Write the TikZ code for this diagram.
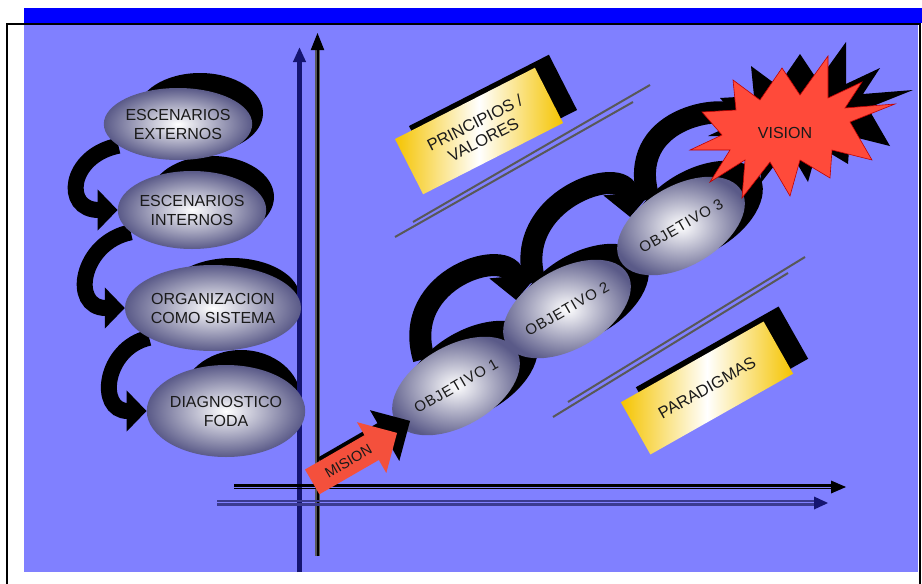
\documentclass[tikz,border=0pt]{standalone}
\usepackage{fontspec}
\setmainfont{Liberation Sans}
\usetikzlibrary{shapes.geometric,shapes.arrows,arrows.meta}
\definecolor{panel}{HTML}{8080FF}
\definecolor{topband}{HTML}{0000FF}
\definecolor{navy}{HTML}{151570}
\definecolor{navyline}{HTML}{3A3A90}
\definecolor{discedge}{HTML}{5A5A88}
\definecolor{gold}{HTML}{F5C400}
\definecolor{starred}{HTML}{FF4A3A}
\definecolor{rulegray}{HTML}{585858}
\definecolor{arrowred}{HTML}{F4503C}
\definecolor{ink}{HTML}{1A1A1A}
\pgfdeclarelayer{base}
\pgfdeclarelayer{back}
\pgfsetlayers{base,back,main}
\tikzset{
  disc/.style={ellipse, inner sep=0pt, shading=radial, inner color=white,
    outer color=discedge, align=center, text=ink,
    font=\fontsize{16}{19}\selectfont},
  goal/.style={disc, minimum width=140pt, minimum height=80pt, rotate=30,
    font=\fontsize{15}{18}\selectfont\addfontfeatures{LetterSpace=6}},
  swoosh/.style={line width=16pt, black, -{Triangle[width=40pt,length=20pt]}},
  arch/.style={line width=22pt, black, -{Triangle[width=48pt,length=24pt]}},
  card/.style={rectangle, inner sep=0pt, align=center, text=ink,
    font=\fontsize{16.5}{19}\selectfont,
    left color=gold, right color=gold, middle color=white},
  rule/.style={line width=2pt, rulegray},
  missionarrow/.style={single arrow, rotate=30, minimum height=98pt,
    minimum width=54pt, single arrow head extend=15pt, inner xsep=4pt,
    inner ysep=9pt, font=\fontsize{14.5}{17}\selectfont, anchor=tail},
}
\begin{document}
\begin{tikzpicture}[x=1pt,y=-1pt]
\useasboundingbox (0,0) rectangle (922,584);

% ---------- page, title band and panel ----------
\begin{pgfonlayer}{base}
  \fill[white] (0,0) rectangle (922,584);
  \fill[topband] (24,8) rectangle (922,23);
  \fill[panel] (24,25) rectangle (918,572);
  \draw[line width=2pt] (7,584) -- (7,24) -- (919.5,24) -- (919.5,584);
\end{pgfonlayer}

% ---------- axes ----------
\draw[navy, line width=5pt, -{Triangle[width=12pt,length=15pt]}] (299.5,572) -- (299.5,47);
\draw[rulegray, line width=5pt] (317.5,556) -- (317.5,50);
\draw[line width=2pt, -{Triangle[width=13pt,length=17pt]}] (317.5,556) -- (317.5,33);
\draw[line width=2.7pt] (234,485.3) -- (835,485.3);
\draw[line width=1.6pt] (234,488.6) -- (835,488.6);
\fill (846,487) -- (831,480.5) -- (831,493.5) -- cycle;
\draw[navyline, line width=1.7pt] (217,500.8) -- (818,500.8);
\draw[navyline, line width=2.2pt] (217,504.5) -- (818,504.5);
\fill[navy] (828,503) -- (814,496.5) -- (814,509.5) -- cycle;

% ---------- left column ----------
\node[disc, minimum width=132pt, minimum height=72pt] (ext) at (178,124) {ESCENARIOS\\EXTERNOS};
\node[disc, minimum width=130pt, minimum height=78pt] (int) at (192,210) {ESCENARIOS\\INTERNOS};
\node[disc, minimum width=140pt, minimum height=86pt] (org) at (213,308) {ORGANIZACION\\COMO SISTEMA};
\node[disc, minimum width=134pt, minimum height=92pt] (foda) at (226,411) {DIAGNOSTICO\\FODA};

\begin{pgfonlayer}{back}
  \fill (200,113) ellipse [x radius=63pt, y radius=40pt];
  \fill (212,197) ellipse [x radius=62pt, y radius=41pt];
  \fill (232,298) ellipse [x radius=68pt, y radius=40pt];
  \fill (241,400) ellipse [x radius=60pt, y radius=50pt];
  \draw[swoosh] (ext.200) .. controls +(-50,10) and +(-55,0) .. (int.west);
  \draw[swoosh] (int.200) .. controls +(-50,10) and +(-55,0) .. (org.west);
  \draw[swoosh] (org.205) .. controls +(-45,10) and +(-50,0) .. (foda.west);
\end{pgfonlayer}

% ---------- guide rules ----------
\draw[rule] (413,222) -- (650,85);
\draw[rule] (395,237) -- (633,102);
\draw[rule] (568,402) -- (805,257);
\draw[rule] (553,417) -- (788,273);

% ---------- cards ----------
\fill[rotate around={27:(493,118)}] (414.5,87) rectangle (571.5,149);
\node[card, minimum width=157pt, minimum height=62pt, rotate=27] (valores) at (479,131) {PRINCIPIOS /\\VALORES};
\fill[rotate around={29.5:(722,373)}] (640,343) rectangle (804,403);
\node[card, minimum width=164pt, minimum height=60pt, rotate=29.5] (paradigmas) at (707,388) {PARADIGMAS};

% ---------- objectives ----------
\node[goal] (g1) at (456,386) {OBJETIVO 1};
\node[goal] (g2) at (567,309) {OBJETIVO 2};
\node[goal] (g3) at (681,226) {OBJETIVO 3};

% ---------- vision star ----------
\fill[shift={(18,-14)}] (690,150) -- (722,135) -- (702,112) -- (736,110) -- (733,80) -- (760,100)
  -- (782,68) -- (800,95) -- (828,56) -- (828,98) -- (862,82) -- (845,108) -- (895,104)
  -- (850,122) -- (872,160) -- (832,150) -- (830,178) -- (800,160) -- (790,196) -- (770,162)
  -- (742,198) -- (745,160) -- (710,182) -- (730,150) -- cycle;
\filldraw[fill=starred, draw=red!75!black, line width=0.6pt]
  (690,150) -- (722,135) -- (702,112) -- (736,110) -- (733,80) -- (760,100)
  -- (782,68) -- (800,95) -- (828,56) -- (828,98) -- (862,82) -- (845,108) -- (895,104)
  -- (850,122) -- (872,160) -- (832,150) -- (830,178) -- (800,160) -- (790,196) -- (770,162)
  -- (742,198) -- (745,160) -- (710,182) -- (730,150) -- cycle;
\node[text=ink, font=\fontsize{16}{19}\selectfont] (vision) at (785,133) {VISION};

\begin{pgfonlayer}{back}
  \fill[rotate around={30:(472,372)}] (472,372) ellipse [x radius=72pt, y radius=42pt];
  \fill[rotate around={30:(583,295)}] (583,295) ellipse [x radius=72pt, y radius=42pt];
  \fill[rotate around={30:(697,212)}] (697,212) ellipse [x radius=72pt, y radius=42pt];
  \draw[arch] (g1.110) .. controls +(-25,-82) and +(-5,-55) .. (g2.140);
  \draw[arch] (g2.110) .. controls +(-25,-82) and +(-5,-55) .. (g3.140);
  \draw[arch] (g3.110) .. controls +(-25,-82) and +(-30,-30) .. (vision.west);
\end{pgfonlayer}

% ---------- mission arrow ----------
\node[missionarrow, fill=black] (misionback) at (325,470) {\phantom{MISION}};
\node[missionarrow, fill=arrowred, text=ink] (mision) at (312,482) {MISION};
\end{tikzpicture}
\end{document}
